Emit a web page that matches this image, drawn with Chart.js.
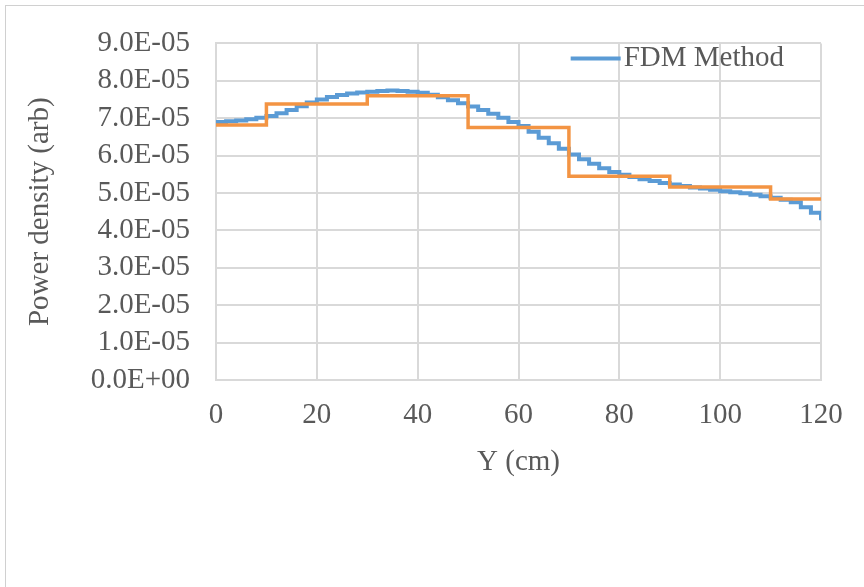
<!DOCTYPE html>
<html lang="en">
<head>
  <meta charset="UTF-8">
  <title>Power density</title>
  <script src="https://cdn.jsdelivr.net/npm/chart.js"></script>
  <style>
    body {
      margin: 0;
      background: #fff;
    }
    #frame {
      position: absolute;
      left: 5px;
      top: 5px;
      width: 900px;
      height: 600px;
      border-left: 1px solid #d0d0d0;
      border-top: 1px solid #d0d0d0;
    }
    #chart {
      position: absolute;
      left: 0;
      top: 0;
    }
  </style>
</head>
<body>
  <div id="frame"></div>
  <canvas id="chart" width="864" height="587"></canvas>

  <script>
    // FDM solution, read every 2 cm
    const fdmY = [0, 2, 4, 6, 8, 10, 12, 14, 16, 18, 20, 22, 24, 26, 28, 30, 32, 34, 36, 38, 40,
      42, 44, 46, 48, 50, 52, 54, 56, 58, 60, 62, 64, 66, 68, 70, 72, 74, 76, 78, 80,
      82, 84, 86, 88, 90, 92, 94, 96, 98, 100, 102, 104, 106, 108, 110, 112, 114, 116, 118, 120];
    const fdmPower = [
      6.90e-5, 6.92e-5, 6.94e-5, 6.97e-5, 7.01e-5, 7.06e-5, 7.13e-5, 7.22e-5, 7.32e-5, 7.42e-5,
      7.50e-5, 7.57e-5, 7.62e-5, 7.66e-5, 7.69e-5, 7.71e-5, 7.73e-5, 7.74e-5, 7.73e-5, 7.71e-5,
      7.68e-5, 7.63e-5, 7.56e-5, 7.48e-5, 7.40e-5, 7.31e-5, 7.22e-5, 7.12e-5, 7.01e-5, 6.90e-5,
      6.79e-5, 6.64e-5, 6.48e-5, 6.33e-5, 6.18e-5, 6.03e-5, 5.90e-5, 5.78e-5, 5.66e-5, 5.56e-5,
      5.49e-5, 5.43e-5, 5.37e-5, 5.32e-5, 5.27e-5, 5.23e-5, 5.19e-5, 5.15e-5, 5.12e-5, 5.09e-5,
      5.05e-5, 5.02e-5, 4.99e-5, 4.95e-5, 4.91e-5, 4.87e-5, 4.82e-5, 4.75e-5, 4.62e-5, 4.47e-5,
      4.27e-5
    ];

    // coarse zones (orange)
    const zoneY = [0, 10, 30, 50, 70, 90, 110, 120];
    const zonePower = [6.82e-5, 7.38e-5, 7.60e-5, 6.75e-5, 5.45e-5, 5.16e-5, 4.84e-5, 4.84e-5];

    const xTicks = { min: 0, max: 120, step: 20 };
    const yTicks = { min: 0, max: 9e-5, step: 1e-5 };

    const textColor = '#595959';
    const gridColor = '#d9d9d9';
    const fontFamily = '"Liberation Serif", "Times New Roman", serif';

    function sciLabel(v) {
      const s = Number(v).toExponential(1);
      const [m, e] = s.split('e');
      const n = parseInt(e, 10);
      const sign = n < 0 ? '-' : '+';
      return m + 'E' + sign + String(Math.abs(n)).padStart(2, '0');
    }

    // legend sits inside the plot, top right
    const insideLegend = {
      id: 'insideLegend',
      afterDraw(chart) {
        const ctx = chart.ctx;
        const area = chart.chartArea;
        const ds = chart.data.datasets[0];
        ctx.save();
        ctx.font = '29px ' + fontFamily;
        const w = ctx.measureText(ds.label).width;
        const textX = area.right - 37 - w;
        const y = area.top + 15;
        ctx.strokeStyle = ds.borderColor;
        ctx.lineWidth = 4;
        ctx.beginPath();
        ctx.moveTo(textX - 53, y);
        ctx.lineTo(textX - 3, y);
        ctx.stroke();
        ctx.fillStyle = textColor;
        ctx.textBaseline = 'middle';
        ctx.fillText(ds.label, textX, y);
        ctx.restore();
      }
    };

    new Chart(document.getElementById('chart').getContext('2d'), {
      type: 'line',
      data: {
        datasets: [
          {
            label: 'FDM Method',
            data: fdmY.map((x, i) => ({ x: x, y: fdmPower[i] })),
            borderColor: '#5B9BD5',
            borderWidth: 4,
            pointRadius: 0,
            stepped: 'before',
            fill: false,
            order: 1
          },
          {
            label: 'Zones',
            data: zoneY.map((x, i) => ({ x: x, y: zonePower[i] })),
            borderColor: '#F39443',
            borderWidth: 3.5,
            pointRadius: 0,
            stepped: 'before',
            fill: false,
            order: 0
          }
        ]
      },
      options: {
        responsive: false,
        animation: false,
        layout: { padding: { left: 0, right: 43, top: 40, bottom: 0 } },
        plugins: {
          legend: { display: false },
          tooltip: { enabled: false }
        },
        scales: {
          x: {
            type: 'linear',
            min: xTicks.min,
            max: xTicks.max,
            afterFit: s => { s.height = 207; },
            grid: { color: gridColor, lineWidth: 2, drawTicks: false },
            border: { color: gridColor, width: 2 },
            ticks: {
              stepSize: xTicks.step,
              autoSkip: false,
              padding: 18,
              color: textColor,
              font: { family: fontFamily, size: 29 },
              maxRotation: 0
            },
            title: {
              display: true,
              text: 'Y (cm)',
              color: textColor,
              font: { family: fontFamily, size: 29 },
              padding: { top: 0, bottom: 107 }
            }
          },
          y: {
            min: yTicks.min,
            max: yTicks.max,
            afterFit: s => { s.width = 216; },
            grid: { color: gridColor, lineWidth: 2, drawTicks: false },
            border: { color: gridColor, width: 2 },
            ticks: {
              stepSize: yTicks.step,
              autoSkip: false,
              padding: 26,
              color: textColor,
              font: { family: fontFamily, size: 29 },
              callback: v => sciLabel(v)
            },
            title: {
              display: true,
              text: 'Power density (arb)',
              color: textColor,
              font: { family: fontFamily, size: 29 },
              padding: { top: 23, bottom: 0 }
            }
          }
        }
      },
      plugins: [insideLegend]
    });
  </script>
</body>
</html>
